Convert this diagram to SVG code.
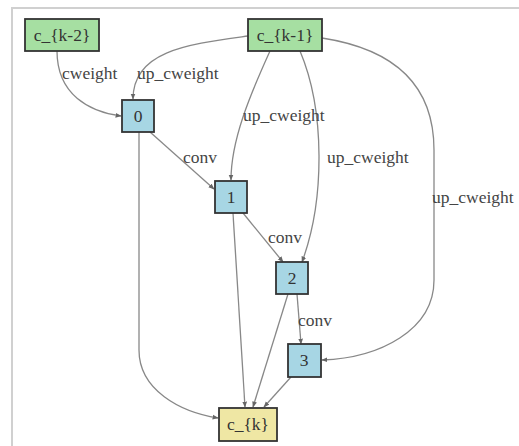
<svg xmlns="http://www.w3.org/2000/svg" width="519" height="446" viewBox="0 0 519 446">
<defs>
<style>
.frame{fill:none;stroke:#d0d0d0;stroke-width:2}
.node rect{stroke:#333;stroke-width:1.8}
.g rect{fill:#a6dfa2}
.b rect{fill:#a7d6e4}
.y rect{fill:#efe7a4}
.node text{font-size:17.5px;fill:#333;text-anchor:middle}
.edges path{fill:none;stroke:#888;stroke-width:1.3;marker-end:url(#ah)}
.lbl{font-size:17.5px;fill:#444}
</style>
<marker id="ah" viewBox="0 0 10 10" refX="9" refY="5" markerWidth="6" markerHeight="6" orient="auto" markerUnits="userSpaceOnUse">
<path d="M0,1 L10,5 L0,9 z" fill="#666"/>
</marker>
</defs>
<rect width="519" height="446" fill="#fff"/>
<path class="frame" d="M12,446 V8 H519"/>
<g id="edges" class="edges" font-family="'Liberation Serif', 'DejaVu Serif', serif">
<path d="M57,51 C57,95 90,112 121,116"/>
<path d="M248,36 C190,44 133,50 133,99"/>
<path d="M270,51 C250,95 231,140 231,180"/>
<path d="M300,51 C325,110 325,200 302,262"/>
<path d="M322,38 C400,50 434,90 434,150 V280 C434,330 380,358 322,360"/>
<path d="M150,132 L214,189"/>
<path d="M243,213 L283,262"/>
<path d="M297,294 L301,344"/>
<path d="M139,132 V350 C139,390 180,412 218,418"/>
<path d="M233,213 L245,407"/>
<path d="M288,294 L253,407"/>
<path d="M291,377 L264,407"/>
<text class="lbl" x="62" y="79">cweight</text>
<text class="lbl" x="137" y="79">up_cweight</text>
<text class="lbl" x="243" y="121">up_cweight</text>
<text class="lbl" x="327" y="163">up_cweight</text>
<text class="lbl" x="432" y="203">up_cweight</text>
<text class="lbl" x="183" y="163">conv</text>
<text class="lbl" x="268" y="243">conv</text>
<text class="lbl" x="298" y="326">conv</text>
</g>
<g font-family="'Liberation Serif', 'DejaVu Serif', serif">
<g id="ck2" class="node g"><rect x="25" y="19" width="74" height="32"/><text x="62" y="41">c_{k-2}</text></g>
<g id="ck1" class="node g"><rect x="248" y="19" width="74" height="32"/><text x="285" y="41">c_{k-1}</text></g>
<g id="n0" class="node b"><rect x="122" y="100" width="32" height="32"/><text x="138" y="122">0</text></g>
<g id="n1" class="node b"><rect x="215" y="181" width="32" height="32"/><text x="231" y="203">1</text></g>
<g id="n2" class="node b"><rect x="276" y="262" width="32" height="32"/><text x="292" y="284">2</text></g>
<g id="n3" class="node b"><rect x="288" y="344" width="33" height="33"/><text x="304" y="366">3</text></g>
<g id="ck" class="node y"><rect x="219" y="408" width="58" height="33"/><text x="248" y="430">c_{k}</text></g>
</g>
</svg>
